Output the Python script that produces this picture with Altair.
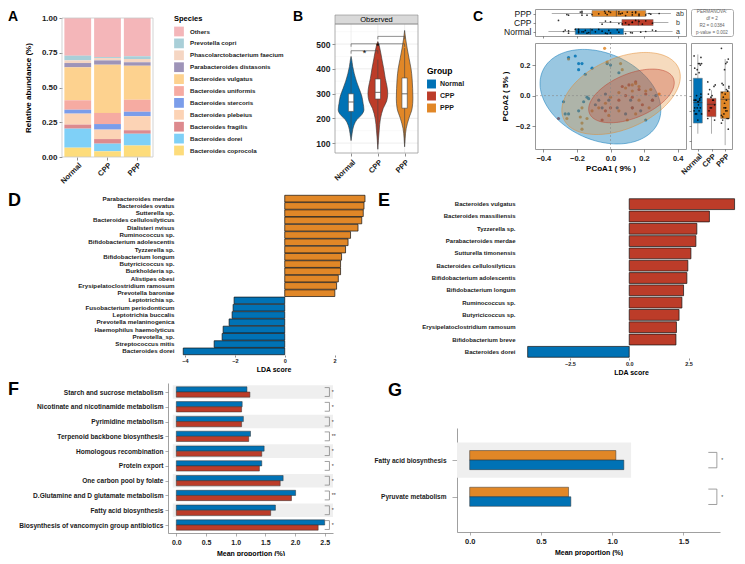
import altair as alt
import numpy as np
import pandas as pd

FONT = "Liberation Sans"
BLUE, RED, ORANGE = "#0072B5", "#BC3C29", "#E18727"
GROUPS = ["Normal", "CPP", "PPP"]
GROUP_COLORS = [BLUE, RED, ORANGE]

# ---------------- Panel A: relative abundance ----------------
species = ["Others", "Prevotella copri", "Phascolarctobacterium faecium",
           "Parabacteroides distasonis", "Bacteroides vulgatus", "Bacteroides uniformis",
           "Bacteroides stercoris", "Bacteroides plebeius", "Bacteroides fragilis",
           "Bacteroides dorei", "Bacteroides coprocola"]
species_colors = ["#F4B6B9", "#A9CFD8", "#F5D6C3", "#9E94B8", "#FDD28F", "#F6ABA2",
                  "#7B9DEA", "#FCD3B5", "#DD8A8E", "#7FD0F7", "#FDDC7B"]
abund_normal = [0.271, 0.034, 0.019, 0.031, 0.237, 0.068, 0.028, 0.079, 0.029, 0.137, 0.067]
abund_cpp = [0.281, 0.007, 0.017, 0.031, 0.347, 0.080, 0.040, 0.068, 0.033, 0.055, 0.041]
abund_ppp = [0.276, 0.019, 0.024, 0.024, 0.245, 0.086, 0.033, 0.101, 0.024, 0.086, 0.082]

# ---------------- Panel B: observed richness (violin profiles) ----------------
viol_normal_y = [110, 140, 170, 195, 215, 235, 260, 290, 320, 350, 380, 410, 440, 450]
viol_normal_w = [0.0, 0.04, 0.10, 0.22, 0.40, 0.48, 0.45, 0.40, 0.30, 0.20, 0.12, 0.06, 0.02, 0.0]
viol_cpp_y = [75, 110, 150, 200, 240, 270, 300, 330, 360, 400, 440, 480, 505, 510]
viol_cpp_w = [0.0, 0.02, 0.05, 0.10, 0.20, 0.33, 0.37, 0.34, 0.28, 0.22, 0.15, 0.08, 0.02, 0.0]
viol_ppp_y = [85, 120, 160, 200, 240, 280, 320, 360, 400, 440, 480, 520, 555]
viol_ppp_w = [0.0, 0.02, 0.06, 0.16, 0.28, 0.31, 0.30, 0.28, 0.24, 0.17, 0.10, 0.04, 0.0]
box_q1 = [228, 278, 241]
box_med = [266, 305, 299]
box_q3 = [299, 359, 363]
whisk_lo = [127, 95, 100]
whisk_hi = [423, 437, 484]
brk_from = [1, 1, 2]
brk_to = [2, 3, 3]
brk_y = [473, 501, 531]
brk_lab = ["*", "*", ""]
b_grid_major = [100, 200, 300, 400, 500]
b_grid_minor = [150, 250, 350, 450, 550]

# ---------------- Panel C: PCoA ----------------
pc_normal_x = [-0.21, -0.25, -0.19, -0.17, -0.19, -0.15, -0.11, -0.02, 0.00, 0.05, -0.28, -0.25, -0.27, -0.19, -0.14,
               -0.13, -0.09, -0.05, -0.01, 0.04, 0.09, 0.13, 0.18, 0.21, 0.27, 0.25, -0.07, -0.03, 0.12, -0.16]
pc_normal_y = [0.26, 0.25, 0.21, 0.21, 0.17, 0.14, 0.18, 0.21, 0.20, 0.15, -0.04, -0.12, -0.12, -0.10, -0.01,
               -0.02, -0.06, -0.08, -0.03, -0.08, -0.12, -0.08, -0.10, -0.16, 0.00, -0.03, -0.03, 0.01, -0.03, -0.04]
pc_cpp_x = [-0.31, -0.05, 0.05, 0.09, 0.13, 0.17, 0.21, 0.11, 0.07, 0.25, 0.13, 0.00, -0.03, 0.15, 0.19]
pc_cpp_y = [-0.15, -0.16, -0.03, 0.00, -0.01, 0.04, 0.01, 0.07, 0.06, -0.03, -0.08, -0.08, -0.10, 0.09, -0.06]
pc_ppp_x = [-0.035, -0.25, -0.02, 0.06, 0.07, 0.13, 0.15, 0.17, 0.21, 0.24, 0.29, -0.17, -0.18, -0.17, -0.17,
            -0.11, -0.07, -0.03, 0.00, 0.05, 0.09, 0.13, 0.17, 0.23, 0.15, 0.10, -0.01, -0.14, -0.26, 0.05]
pc_ppp_y = [0.31, 0.24, 0.22, 0.21, 0.17, 0.07, 0.08, 0.06, 0.03, 0.04, 0.01, -0.08, -0.14, -0.18, -0.22,
            -0.10, -0.08, -0.05, -0.01, 0.02, 0.05, 0.03, -0.03, -0.08, -0.12, -0.16, -0.13, -0.15, -0.15, -0.10]
# confidence ellipses (centre, x/y spread and covariance), order Normal, CPP, PPP
ell_cx = [-0.06, 0.125, 0.063]
ell_cy = [-0.007, -0.002, 0.014]
ell_rx = [0.36, 0.255, 0.353]
ell_ry = [0.31, 0.176, 0.269]
ell_cov = [-0.031, 0.022, 0.039]
# PCoA1 boxplot stats (Normal, CPP, PPP)
pc1_q1 = [-0.21, 0.068, -0.11]
pc1_med = [-0.12, 0.166, 0.035]
pc1_q3 = [0.078, 0.254, 0.21]
pc1_lo = [-0.37, -0.068, -0.35]
pc1_hi = [0.37, 0.345, 0.36]
pc1_letters = ["a", "b", "ab"]
# PCoA2 boxplot stats
pc2_q1 = [-0.18, -0.138, -0.15]
pc2_med = [-0.046, -0.057, -0.024]
pc2_q3 = [0.114, -0.018, 0.026]
pc2_lo = [-0.25, -0.25, -0.325]
pc2_hi = [0.27, 0.035, 0.24]
perm_lines = ["PERMANOVA:", "df = 2", "R2 = 0.0384", "p-value = 0.002"]

# ---------------- Panel D / E: LDA ----------------
d_names = ["Parabacteroides merdae", "Bacteroides ovatus", "Sutterella sp.", "Bacteroides cellulosilyticus",
           "Dialisteri nvisus", "Ruminococcus sp.", "Bifidobacterium adolescentis", "Tyzzerella sp.",
           "Bifidobacterium longum", "Butyricicoccus sp.", "Burkholderia sp.", "Alistipes obesi",
           "Erysipelatoclostridium ramosum", "Prevotella baroniae", "Leptotrichia sp.",
           "Fusobacterium periodonticum", "Leptotrichia buccalis", "Prevotella melaninogenica",
           "Haemophilus haemolyticus", "Prevotella_sp.", "Streptococcus mitis", "Bacteroides dorei"]
d_lda = [3.22, 3.18, 3.15, 3.09, 2.94, 2.64, 2.54, 2.44, 2.28, 2.24, 2.24, 2.15, 2.08, 2.01,
         -2.03, -2.07, -2.11, -2.23, -2.47, -2.51, -2.83, -4.07]
d_group = ["PPP"] * 14 + ["Normal"] * 8

e_names = ["Bacteroides vulgatus", "Bacteroides massiliensis", "Tyzzerella sp.", "Parabacteroides merdae",
           "Sutturella timonensis", "Bacteroides cellulosilyticus", "Bifidobacterium adolescentis",
           "Bifidobacterium longum", "Ruminococcus sp.", "Butyricicoccus sp.",
           "Erysipelatoclostridium ramosum", "Bifidobacterium breve", "Bacteroides dorei"]
e_lda = [4.44, 3.38, 2.85, 2.81, 2.60, 2.47, 2.43, 2.29, 2.22, 2.10, 1.99, 1.97, -4.28]
e_group = ["CPP"] * 12 + ["Normal"]

# ---------------- Panel F / G: pathways ----------------
f_names = ["Starch and sucrose metabolism", "Nicotinate and nicotinamide metabolism", "Pyrimidine metabolism",
           "Terpenoid backbone biosynthesis", "Homologous recombination", "Protein export",
           "One carbon pool by folate", "D.Glutamine and D glutamate metabolism", "Fatty acid biosynthesis",
           "Biosynthesis of vancomycin group antibiotics"]
f_normal = [1.19, 1.11, 1.13, 1.25, 1.48, 1.44, 1.80, 2.01, 1.67, 2.50]
f_cpp = [1.24, 1.10, 1.10, 1.22, 1.44, 1.40, 1.75, 1.94, 1.59, 2.39]
f_sig = ["*", "*", "*", "**", "*", "*", "*", "**", "*", "*"]

g_names = ["Fatty acid biosynthesis", "Pyruvate metabolism"]
g_ppp = [1.026, 0.694]
g_normal = [1.082, 0.710]
g_sig = ["*", "*"]

# panel canvas sizes (each panel is drawn inside its own canvas)
ROW1_H, ROW2_H, ROW3_H = 183, 188, 175


def js_list(items):
    return "[" + ",".join("'" + s + "'" for s in items) + "]"


def letter(txt, x, y, size):
    return alt.Chart(pd.DataFrame({"t": [txt]})).mark_text(
        fontSize=size, fontWeight="bold", align="left", baseline="alphabetic", color="black").encode(
        x=alt.value(x), y=alt.value(y), text="t:N")


def frame(x1, x2, y1, y2, color):
    return alt.Chart(pd.DataFrame({"a": [0]})).mark_rect(fillOpacity=0, stroke=color, strokeWidth=0.8).encode(
        x=alt.value(x1), x2=alt.value(x2), y=alt.value(y1), y2=alt.value(y2))


def indep(c):
    return c.resolve_scale(color="independent").resolve_legend(color="independent")


gscale = alt.Scale(domain=GROUPS, range=GROUP_COLORS)
one = pd.DataFrame({"a": [0]})

# ================= A =================
A_L, A_R, A_T, A_B = 54, 145, 9, 148
dfA = pd.DataFrame([dict(group=g, species=s, value=v, ord=len(species) - 1 - i)
                    for g, vals in zip(GROUPS, [abund_normal, abund_cpp, abund_ppp])
                    for i, (s, v) in enumerate(zip(species, vals))])
barsA = alt.Chart(dfA).mark_bar().encode(
    x=alt.X("group:N", sort=GROUPS, title=None,
            scale=alt.Scale(range=[A_L, A_R], paddingInner=0.1, paddingOuter=0.08),
            axis=alt.Axis(labelAngle=-45, labelFontSize=7.5, tickSize=3, domain=False, labelPadding=1,
                          labelOverlap=False, offset=-(ROW1_H - A_B))),
    y=alt.Y("value:Q", stack="zero", title="Relative abundance (%)",
            scale=alt.Scale(domain=[0, 1], range=[A_B, A_T], nice=False),
            axis=alt.Axis(values=[0, 0.25, 0.5, 0.75, 1], format=".2f", grid=False, domain=False,
                          tickSize=3, labelFontSize=8, titleFontSize=8, titlePadding=9, labelOverlap=False,
                          offset=-A_L)),
    color=alt.Color("species:N", scale=alt.Scale(domain=species, range=species_colors),
                    legend=alt.Legend(title="Species", orient="none", legendX=166, legendY=6,
                                      symbolType="square", symbolSize=95,
                                      symbolStrokeWidth=0, labelFontSize=6.2, titleFontSize=7.5,
                                      rowPadding=1.9, labelOffset=6, titlePadding=4, labelLimit=200)),
    order=alt.Order("ord:Q", sort="ascending"),
)
chartA = alt.layer(barsA, frame(A_L, A_R, A_T, A_B, "#c8c8c8"), letter("A", 0, 12, 14)).properties(
    width=283, height=ROW1_H)

# ================= B =================
B_L, B_R, B_T, B_B = 44, 127, 15, 144
dfV = pd.DataFrame([dict(group=g, c=ci + 1, v=y, w=w)
                    for ci, (g, ys, ws) in enumerate(zip(GROUPS, [viol_normal_y, viol_cpp_y, viol_ppp_y],
                                                         [viol_normal_w, viol_cpp_w, viol_ppp_w]))
                    for y, w in zip(ys, ws)])
dfBox = pd.DataFrame({"group": GROUPS, "c": [1, 2, 3], "q1": box_q1, "med": box_med, "q3": box_q3,
                      "lo": whisk_lo, "hi": whisk_hi})
dfBr = pd.DataFrame({"x1": brk_from, "x2": brk_to, "y": brk_y, "lab": brk_lab})
xB = alt.Scale(domain=[0.4, 3.5], range=[B_L, B_R], nice=False, zero=False)
yB = alt.Scale(domain=[60, 581], range=[B_B, B_T], nice=False, zero=False)
axBy = alt.Axis(values=b_grid_major, grid=False, domain=False, tickSize=3,
                labelFontSize=8.5, labelOverlap=False, offset=-B_L)
axBx = alt.Axis(values=[1, 2, 3], labelExpr=js_list([""] + GROUPS) + "[datum.value]",
                labelAngle=-45, grid=False, domain=False, tickSize=3, labelFontSize=7.5, labelOverlap=False,
                offset=-(ROW1_H - B_B))


def bx(f=None, datum=None):
    if datum is not None:
        return alt.X(datum=datum, scale=xB, axis=axBx, title=None)
    return alt.X(f, scale=xB, axis=axBx, title=None)


def by(f=None, datum=None):
    if datum is not None:
        return alt.Y(datum=datum, scale=yB, axis=axBy, title=None)
    return alt.Y(f, scale=yB, axis=axBy, title=None)


gridMin = alt.Chart(pd.DataFrame({"v": b_grid_minor})).mark_rule(color="#f2f2f2", strokeWidth=0.5).encode(
    y=by("v:Q"), x=bx(datum=0.4), x2=alt.datum(3.5))
gridMaj = alt.Chart(pd.DataFrame({"v": b_grid_major})).mark_rule(color="#e6e6e6", strokeWidth=0.7).encode(
    y=by("v:Q"), x=bx(datum=0.4), x2=alt.datum(3.5))
gridV = alt.Chart(pd.DataFrame({"c": [1, 2, 3]})).mark_rule(color="#e6e6e6", strokeWidth=0.7).encode(
    x=bx("c:Q"), y=by(datum=60), y2=alt.datum(581))
violin = alt.Chart(dfV).transform_calculate(xl="datum.c - datum.w", xr="datum.c + datum.w").mark_area(
    orient="horizontal", interpolate="monotone", stroke="#333", strokeWidth=0.6, fillOpacity=1).encode(
    y=by("v:Q"), x=bx("xl:Q"), x2="xr:Q",
    color=alt.Color("group:N", scale=gscale,
                    legend=alt.Legend(title="Group", orient="none", legendX=136, legendY=58,
                                      symbolType="square", symbolSize=80, symbolStrokeWidth=0,
                                      labelFontSize=7, titleFontSize=8.5, rowPadding=3, titlePadding=4)),
)
whB = alt.Chart(dfBox).mark_rule(color="#444", strokeWidth=0.6).encode(x=bx("c:Q"), y=by("lo:Q"), y2="hi:Q")
bxB = alt.Chart(dfBox).transform_calculate(bl="datum.c - 0.1", br="datum.c + 0.1").mark_rect(
    fill="white", stroke="#444", strokeWidth=0.6).encode(x=bx("bl:Q"), x2="br:Q", y=by("q1:Q"), y2="q3:Q")
mdB = alt.Chart(dfBox).transform_calculate(bl="datum.c - 0.1", br="datum.c + 0.1").mark_rule(
    color="#444", strokeWidth=0.8).encode(x=bx("bl:Q"), x2="br:Q", y=by("med:Q"))
brH = alt.Chart(dfBr).mark_rule(color="#444", strokeWidth=0.6).encode(x=bx("x1:Q"), x2="x2:Q", y=by("y:Q"))
brL = alt.Chart(dfBr).transform_calculate(yb="datum.y - 12").mark_rule(color="#444", strokeWidth=0.6).encode(
    x=bx("x1:Q"), y=by("y:Q"), y2="yb:Q")
brR = alt.Chart(dfBr).transform_calculate(yb="datum.y - 12").mark_rule(color="#444", strokeWidth=0.6).encode(
    x=bx("x2:Q"), y=by("y:Q"), y2="yb:Q")
stB = alt.Chart(dfBr).transform_filter("datum.lab != ''").transform_calculate(
    xm="(datum.x1 + datum.x2) / 2").mark_text(fontSize=9, baseline="alphabetic", dy=5).encode(
    x=bx("xm:Q"), y=by("y:Q"), text="lab:N")
stripB = alt.Chart(one).mark_rect(fill="#d9d9d9", stroke="#888", strokeWidth=0.6).encode(
    x=alt.value(B_L), x2=alt.value(B_R), y=alt.value(B_T - 9), y2=alt.value(B_T))
stripT = alt.Chart(pd.DataFrame({"t": ["Observed"]})).mark_text(fontSize=7.5, baseline="middle").encode(
    x=alt.value((B_L + B_R) / 2), y=alt.value(B_T - 4.5), text="t:N")
chartB = alt.layer(gridMin, gridMaj, gridV, violin, whB, bxB, mdB, brH, brL, brR, stB, stripB, stripT,
                   frame(B_L, B_R, B_T, B_B, "#999"), letter("B", 2, 12, 14)).properties(
    width=181, height=ROW1_H)

# ================= C =================
dfP = pd.DataFrame([dict(group=g, x=a, y=b, k=k, trow=2 - gi, rcol=gi)
                    for gi, (g, xs, ys) in enumerate(zip(GROUPS, [pc_normal_x, pc_cpp_x, pc_ppp_x],
                                                         [pc_normal_y, pc_cpp_y, pc_ppp_y]))
                    for k, (a, b) in enumerate(zip(xs, ys))])
phi = np.linspace(0, np.pi, 73)
ell_rows = []
for g, cx, cy, rx, ry, cv in zip(GROUPS, ell_cx, ell_cy, ell_rx, ell_ry, ell_cov):
    dxs = rx * np.cos(phi)
    mid = cy + dxs * cv / rx ** 2
    half = np.sqrt(ry ** 2 - cv ** 2 / rx ** 2) * np.sqrt(np.clip(1 - (dxs / rx) ** 2, 0, 1))
    for a, m, h in zip(dxs, mid, half):
        ell_rows.append(dict(group=g, ex=cx + a, lo=m - h, hi=m + h))
dfE = pd.DataFrame(ell_rows)

xC = alt.Scale(domain=[-0.45, 0.45], nice=False, zero=False)
yC = alt.Scale(domain=[-0.35, 0.345], nice=False, zero=False)
axCx = alt.Axis(values=[-0.4, -0.2, 0, 0.2, 0.4], format=".1f", grid=False, domain=False,
                tickSize=3, labelFontSize=7.5, titleFontSize=8, titlePadding=3, labelOverlap=False)
axCy = alt.Axis(values=[-0.2, 0, 0.2], format=".1f", grid=False, domain=False, tickSize=3,
                labelFontSize=7.5, titleFontSize=8, titlePadding=6, labelOverlap=False)


def cx_(f):
    return alt.X(f, scale=xC, axis=axCx, title="PCoA1 ( 9% )")


def cy_(f):
    return alt.Y(f, scale=yC, axis=axCy, title="PCoA2 ( 5% )")


ptsC = alt.Chart(dfP).mark_circle(size=10, opacity=0.85).encode(
    x=cx_("x:Q"), y=cy_("y:Q"), color=alt.Color("group:N", scale=gscale, legend=None))
ell_layers = []
for g, col, op in [("Normal", BLUE, 0.4), ("PPP", ORANGE, 0.3), ("CPP", RED, 0.3)]:
    ell_layers.append(alt.Chart(dfE).transform_filter(alt.datum.group == g).mark_area(
        color=col, fillOpacity=op, stroke=col, strokeWidth=0.8, strokeOpacity=0.6).encode(
        x=cx_("ex:Q"), y=cy_("lo:Q"), y2="hi:Q"))
zx = alt.Chart(one).mark_rule(strokeDash=[2, 2], color="#888", strokeWidth=0.6).encode(
    x=alt.X(datum=0, scale=xC, axis=axCx, title="PCoA1 ( 9% )"))
zy = alt.Chart(one).mark_rule(strokeDash=[2, 2], color="#888", strokeWidth=0.6).encode(
    y=alt.Y(datum=0, scale=yC, axis=axCy, title="PCoA2 ( 5% )"))
scatter = alt.layer(ptsC, *ell_layers, zx, zy).properties(
    width=151, height=106, view=alt.ViewBackground(stroke="#999"))

dfT = pd.DataFrame({"group": GROUPS, "trow": [2, 1, 0], "rcol": [0, 1, 2],
                    "q1": pc1_q1, "med": pc1_med, "q3": pc1_q3, "lo": pc1_lo, "hi": pc1_hi,
                    "let": pc1_letters, "q1b": pc2_q1, "medb": pc2_med, "q3b": pc2_q3,
                    "lob": pc2_lo, "hib": pc2_hi})
yT = alt.Scale(domain=[-0.5, 2.5], reverse=True, nice=False, zero=False)
axTy = alt.Axis(values=[0, 1, 2], labelExpr=js_list(["PPP", "CPP", "Normal"]) + "[datum.value]",
                grid=False, domain=False, tickSize=2, labelFontSize=8.5, labelFontWeight="normal",
                labelPadding=2, labelColor="#111", labelOverlap=False)
axTx = alt.Axis(values=[-0.4, -0.2, 0, 0.2, 0.4], labels=False, grid=False, domain=False, tickSize=2)


def tx(f):
    return alt.X(f, scale=xC, axis=axTx, title=None)


def ty(f):
    return alt.Y(f, scale=yT, axis=axTy, title=None)


t_wh = alt.Chart(dfT).mark_rule(color="#777", strokeWidth=0.6).encode(x=tx("lo:Q"), x2="hi:Q", y=ty("trow:Q"))
t_bx = alt.Chart(dfT).transform_calculate(b1="datum.trow - 0.33", b2="datum.trow + 0.33").mark_rect(
    stroke="#777", strokeWidth=0.5).encode(
    x=tx("q1:Q"), x2="q3:Q", y=ty("b1:Q"), y2="b2:Q", color=alt.Color("group:N", scale=gscale, legend=None))
t_md = alt.Chart(dfT).transform_calculate(b1="datum.trow - 0.33", b2="datum.trow + 0.33").mark_rule(
    color="#333", strokeWidth=0.6).encode(x=tx("med:Q"), y=ty("b1:Q"), y2="b2:Q")
t_pt = alt.Chart(dfP).transform_calculate(jy="datum.trow + ((datum.k * 37) % 13 - 6) / 26").mark_circle(
    size=3, color="black", opacity=0.8).encode(x=tx("x:Q"), y=ty("jy:Q"))
t_lt = alt.Chart(dfT).mark_text(align="left", fontSize=7, color="#333", baseline="middle").encode(
    x=alt.value(141), y=ty("trow:Q"), text="let:N")
topC = alt.layer(t_wh, t_bx, t_md, t_pt, t_lt, letter("C", -62, 12, 14)).properties(
    width=151, height=27, view=alt.ViewBackground(stroke="#999"))

dfPerm = pd.DataFrame({"line": perm_lines, "i": list(range(len(perm_lines)))})
permC = alt.Chart(dfPerm).mark_text(fontSize=4.6, color="#666").encode(
    y=alt.Y("i:O", axis=None, scale=alt.Scale(paddingOuter=0.3)), text="line:N", x=alt.value(21)
).properties(width=42, height=27, view=alt.ViewBackground(stroke="#aaa", cornerRadius=2))

xR = alt.Scale(domain=[-0.5, 2.5], nice=False, zero=False)
axRx = alt.Axis(values=[0, 1, 2], labelExpr=js_list(GROUPS) + "[datum.value]", labelAngle=-45,
                grid=False, domain=False, tickSize=2, labelFontSize=7.5, labelPadding=1, labelOverlap=False)
axRy = alt.Axis(values=[-0.3, -0.2, -0.1, 0, 0.1, 0.2], labels=False, grid=False, domain=False, tickSize=2)


def rx_(f):
    return alt.X(f, scale=xR, axis=axRx, title=None)


def ry_(f):
    return alt.Y(f, scale=yC, axis=axRy, title=None)


r_wh = alt.Chart(dfT).mark_rule(color="#777", strokeWidth=0.6).encode(x=rx_("rcol:Q"), y=ry_("lob:Q"), y2="hib:Q")
r_bx = alt.Chart(dfT).transform_calculate(b1="datum.rcol - 0.33", b2="datum.rcol + 0.33").mark_rect(
    stroke="#777", strokeWidth=0.5).encode(
    x=rx_("b1:Q"), x2="b2:Q", y=ry_("q1b:Q"), y2="q3b:Q", color=alt.Color("group:N", scale=gscale, legend=None))
r_md = alt.Chart(dfT).transform_calculate(b1="datum.rcol - 0.33", b2="datum.rcol + 0.33").mark_rule(
    color="#333", strokeWidth=0.6).encode(x=rx_("b1:Q"), x2="b2:Q", y=ry_("medb:Q"))
r_pt = alt.Chart(dfP).transform_calculate(jx="datum.rcol + ((datum.k * 37) % 13 - 6) / 22").mark_circle(
    size=3, color="black", opacity=0.8).encode(x=rx_("jx:Q"), y=ry_("y:Q"))
rightC = alt.layer(r_wh, r_bx, r_md, r_pt).properties(
    width=41, height=106, view=alt.ViewBackground(stroke="#999"))

chartC = indep(alt.concat(topC, permC, scatter, rightC, columns=2, bounds="flush",
                          spacing=alt.RowColnumber(row=7, column=5)))


# ================= D / E =================
def lda_chart(names, vals, grp, dom, ticks, fmt, cw, ch, pl, pr, pt, pb, pad, lab_pad, lab_size,
              tick_size, ltr, lx, ly):
    df = pd.DataFrame({"name": names, "lda": vals, "group": grp})
    bars = alt.Chart(df).mark_bar(stroke="#111", strokeWidth=0.7).encode(
        y=alt.Y("name:N", sort=names, title=None,
                scale=alt.Scale(range=[pt, pb], paddingInner=pad, paddingOuter=pad / 2),
                axis=alt.Axis(ticks=False, domain=False, labelPadding=lab_pad, labelFontSize=lab_size,
                              labelLimit=300, labelOverlap=False, offset=-pl)),
        x=alt.X("lda:Q", title="LDA score", scale=alt.Scale(domain=dom, range=[pl, pr], nice=False, zero=False),
                axis=alt.Axis(values=ticks, format=fmt, grid=False, domain=False, tickSize=2,
                              labelFontSize=tick_size, titleFontSize=7, titlePadding=2, labelPadding=1,
                              labelOverlap=False, offset=-(ch - pb))),
        x2=alt.datum(0),
        color=alt.Color("group:N", scale=gscale, legend=None),
    )
    return alt.layer(bars, letter(ltr, lx, ly, 18)).properties(width=cw, height=ch)


chartD = lda_chart(d_names, d_lda, d_group, [-4.2, 3.3], [-4, -2, 0, 2], "d", 367, ROW2_H,
                   172, 359, 3, 163, 0.08, 6, 6.2, 5.5, "D", 0, 14)
chartE = lda_chart(e_names, e_lda, e_group, [-4.35, 4.5], [-2.5, 0, 2.5], ".1f", 362, ROW2_H,
                   151, 361, 6, 166, 0.12, 11, 6, 5.5, "E", 3, 14)


# ================= F / G =================
def pathway_chart(names, top_vals, bot_vals, top_col, bot_col, sig, xdom, xticks, ydom, cw, ch,
                  pl, pr, pt, pb, half, stripe_half, stripe_start, stripe_end, brk_x1, brk_x2, brk_half,
                  star_x, lab_size, tick_size, lab_pad, tsize, ltr, lx, ly):
    df = pd.DataFrame({"row": list(range(len(names))), "name": names, "a": top_vals, "b": bot_vals,
                       "sig": sig})
    xs = alt.Scale(domain=xdom, range=[pl, pr], nice=False, zero=False)
    ys = alt.Scale(domain=ydom, range=[pt, pb], nice=False, zero=False)
    ya = alt.Axis(values=list(range(len(names))), labelExpr=js_list(names) + "[datum.value]", grid=False,
                  tickSize=tsize, labelPadding=lab_pad, labelFontSize=lab_size, domainColor="#777",
                  tickColor="#777", labelLimit=300, labelOverlap=False, offset=-pl)
    xa = alt.Axis(values=xticks, format=".1f", grid=False, tickSize=3, labelFontSize=tick_size,
                  titleFontSize=7, domainColor="#777", tickColor="#777", titlePadding=4, labelOverlap=False,
                  offset=-(ch - pb))
    xt = "Mean proportion (%)"

    def X(f):
        return alt.X(f, scale=xs, axis=xa, title=xt)

    def XD(v):
        return alt.X(datum=v, scale=xs, axis=xa, title=xt)

    def Y(f):
        return alt.Y(f, scale=ys, axis=ya, title=None)

    base = alt.Chart(df)
    stripes = base.transform_filter("datum.row % 2 == 0").transform_calculate(
        s1="datum.row - %f" % stripe_half, s2="datum.row + %f" % stripe_half).mark_rect(color="#efefef").encode(
        y=Y("s1:Q"), y2="s2:Q", x=XD(stripe_start), x2=alt.datum(stripe_end))
    bt = base.transform_calculate(y1="datum.row - %f" % half, y2="datum.row").mark_rect(
        color=top_col, stroke="#333", strokeWidth=0.5).encode(
        x=X("a:Q"), x2=alt.datum(0), y=Y("y1:Q"), y2="y2:Q")
    bb = base.transform_calculate(y1="datum.row", y2="datum.row + %f" % half).mark_rect(
        color=bot_col, stroke="#333", strokeWidth=0.5).encode(
        x=X("b:Q"), x2=alt.datum(0), y=Y("y1:Q"), y2="y2:Q")
    bcalc = dict(r1="datum.row - %f" % brk_half, r2="datum.row + %f" % brk_half)
    bv = base.transform_calculate(**bcalc).mark_rule(color="#888", strokeWidth=0.8).encode(
        x=XD(brk_x2), y=Y("r1:Q"), y2="r2:Q")
    bc1 = base.transform_calculate(**bcalc).mark_rule(color="#888", strokeWidth=0.8).encode(
        x=XD(brk_x1), x2=alt.datum(brk_x2), y=Y("r1:Q"))
    bc2 = base.transform_calculate(**bcalc).mark_rule(color="#888", strokeWidth=0.8).encode(
        x=XD(brk_x1), x2=alt.datum(brk_x2), y=Y("r2:Q"))
    st = base.mark_text(fontSize=5, align="left", baseline="middle", color="#333").encode(
        x=XD(star_x), y=Y("row:Q"), text="sig:N")
    return alt.layer(stripes, bt, bb, bv, bc1, bc2, st, letter(ltr, lx, ly, 18)).properties(
        width=cw, height=ch)


chartF = pathway_chart(f_names, f_normal, f_cpp, BLUE, RED, f_sig, [-0.14, 2.64],
                       [0, 0.5, 1, 1.5, 2, 2.5], [-0.61, 9.54], 352, ROW3_H, 160, 325, 3, 153,
                       0.35, 0.46, -0.06, 2.64, 2.50, 2.58, 0.3, 2.62, 6.6, 7, 2, 3, "F", 0, 15)
chartG = pathway_chart(g_names, g_ppp, g_normal, ORANGE, BLUE, g_sig, [-0.089, 1.757],
                       [0, 0.5, 1, 1.5], [-0.875, 1.96], 377, ROW3_H, 97, 360, 48, 152,
                       0.26, 0.48, -0.089, 1.133, 1.675, 1.735, 0.21, 1.765, 6.5, 7.5, 6, 5, "G", 28, 16)

# ================= assemble =================
row1 = indep(alt.hconcat(chartA, chartB, chartC, spacing=0))
row2 = indep(alt.hconcat(chartD, chartE, spacing=0))
row3 = indep(alt.hconcat(chartF, chartG, spacing=0))
chart = indep(alt.vconcat(row1, row2, row3, spacing=0)).properties(padding=0).configure(
    font=FONT).configure_axis(
    labelFont=FONT, titleFont=FONT, labelFontWeight="bold", titleFontWeight="bold",
    labelColor="#1a1a1a", titleColor="#000", tickColor="#444", domainColor="#444", labelOverlap=False,
    gridColor="#ebebeb", gridWidth=0.6, tickWidth=0.6, domainWidth=0.7).configure_legend(
    labelFont=FONT, titleFont=FONT, labelFontWeight="bold", titleFontWeight="bold",
    labelColor="#1a1a1a").configure_view(stroke=None).configure_text(font=FONT)

chart.save("out.html", embed_options={"renderer": "svg", "actions": False})
